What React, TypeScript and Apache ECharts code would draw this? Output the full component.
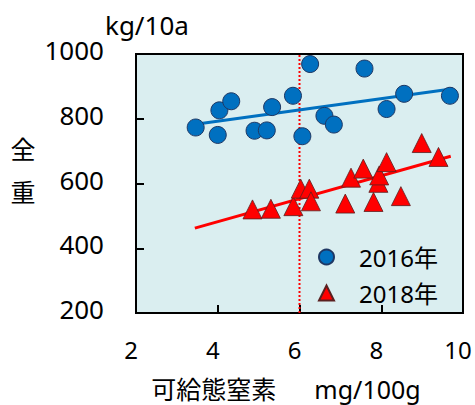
import React, { useEffect, useRef } from "react";
import * as echarts from "echarts";

const xTicks = [2, 4, 6, 8, 10];
const yTicks = [200, 400, 600, 800, 1000];

const n2016X = [3.46, 4.0, 4.04, 4.33, 4.9, 5.2, 5.33, 5.84, 6.07, 6.26, 6.61, 6.84, 7.59, 8.13, 8.56, 9.68];
const n2016Y = [773, 750, 826, 854, 763, 764, 836, 871, 746, 969, 809, 782, 955, 830, 877, 871];

const n2018X = [4.85, 5.3, 5.85, 6.03, 6.24, 6.28, 7.12, 7.26, 7.56, 7.81, 7.93, 7.95, 8.13, 8.48, 8.99, 9.4];
const n2018Y = [520, 522, 530, 584, 584, 545, 538, 618, 646, 543, 602, 625, 666, 561, 725, 682];

const trend2016 = [[3.59, 785], [9.76, 893]];
const trend2018 = [[3.44, 462], [9.7, 684]];
const refX = 6;

const seriesNames = ["2016年", "2018年"];

const FONT = "'Noto Sans', 'Noto Sans CJK JP', sans-serif";

export default function App() {
  const ref = useRef<HTMLDivElement>(null);
  useEffect(() => {
    if (!ref.current) return;
    const chart = echarts.init(ref.current, null, { renderer: "svg" });
    const pts = (xs: number[], ys: number[]) => xs.map((x, i) => [x, ys[i]]);
    chart.setOption({
      animation: false,
      textStyle: { fontFamily: FONT },
      grid: {
        left: 136,
        top: 54,
        width: 327,
        height: 259,
        show: true,
        backgroundColor: "#daeef0",
        borderColor: "#000",
        borderWidth: 2,
      },
      xAxis: {
        type: "value",
        min: xTicks[0],
        max: xTicks[xTicks.length - 1],
        interval: 2,
        splitLine: { show: false },
        axisLine: { show: true, lineStyle: { color: "#000", width: 2 } },
        axisTick: { show: true, inside: true, length: 8, lineStyle: { color: "#000", width: 2 } },
        axisLabel: {
          color: "#000",
          fontSize: 24,
          fontFamily: FONT,
          margin: 24,
          padding: [0, 10, 0, 0],
        },
      },
      yAxis: {
        type: "value",
        min: yTicks[0],
        max: yTicks[yTicks.length - 1],
        interval: 200,
        splitLine: { show: false },
        axisLine: { show: true, lineStyle: { color: "#000", width: 2 } },
        axisTick: { show: true, inside: true, length: 8, lineStyle: { color: "#000", width: 2 } },
        axisLabel: {
          color: "#000",
          fontSize: 26,
          fontFamily: FONT,
          margin: 32,
          verticalAlign: "bottom",
          lineHeight: 8,
          formatter: (v: number) => String(v),
        },
      },
      legend: {
        data: seriesNames,
        orient: "vertical",
        left: 313,
        top: 235,
        padding: 5,
        itemWidth: 15,
        itemHeight: 15,
        itemGap: 2,
        textStyle: {
          color: "#000",
          fontSize: 24,
          fontFamily: FONT,
          lineHeight: 26,
          padding: [0, 0, 8, 20],
        },
      },
      graphic: [
        {
          type: "text",
          left: 105,
          top: 12,
          style: { text: "kg/10a", fontSize: 26, fontFamily: FONT, fill: "#000" },
        },
        {
          type: "text",
          x: 23,
          y: 170,
          style: {
            text: "全\n重",
            fontSize: 25,
            lineHeight: 43,
            fontFamily: FONT,
            fill: "#000",
            align: "center",
            verticalAlign: "middle",
          },
        },
        {
          type: "text",
          x: 286,
          y: 389,
          style: {
            text: "可給態窒素　  mg/100g",
            fontSize: 25,
            lineHeight: 25,
            fontFamily: FONT,
            fill: "#000",
            align: "center",
            verticalAlign: "middle",
          },
        },
      ],
      series: [
        {
          type: "line",
          data: [[refX, yTicks[0]], [refX, yTicks[yTicks.length - 1]]],
          symbol: "none",
          silent: true,
          lineStyle: { color: "#ff0000", width: 2, type: [2, 2] },
          z: 1,
        },
        {
          type: "line",
          data: trend2016,
          symbol: "none",
          lineStyle: { color: "#0070c0", width: 3 },
          z: 2,
        },
        {
          type: "line",
          data: trend2018,
          symbol: "none",
          lineStyle: { color: "#ff0000", width: 3 },
          z: 2,
        },
        {
          name: seriesNames[0],
          type: "scatter",
          data: pts(n2016X, n2016Y),
          symbol: "circle",
          symbolSize: 17,
          itemStyle: { color: "#0070c0", borderColor: "#1f3864", borderWidth: 1, opacity: 1 },
          z: 3,
        },
        {
          name: seriesNames[1],
          type: "scatter",
          data: pts(n2018X, n2018Y),
          symbol: "triangle",
          symbolSize: 19,
          itemStyle: { color: "#ff0000", borderColor: "#5a2020", borderWidth: 0.8, opacity: 1 },
          z: 3,
        },
      ],
    });
    return () => chart.dispose();
  }, []);
  return (
    <div
      ref={ref}
      style={{ position: "absolute", left: 0, top: 0, width: 475, height: 405 }}
    />
  );
}
